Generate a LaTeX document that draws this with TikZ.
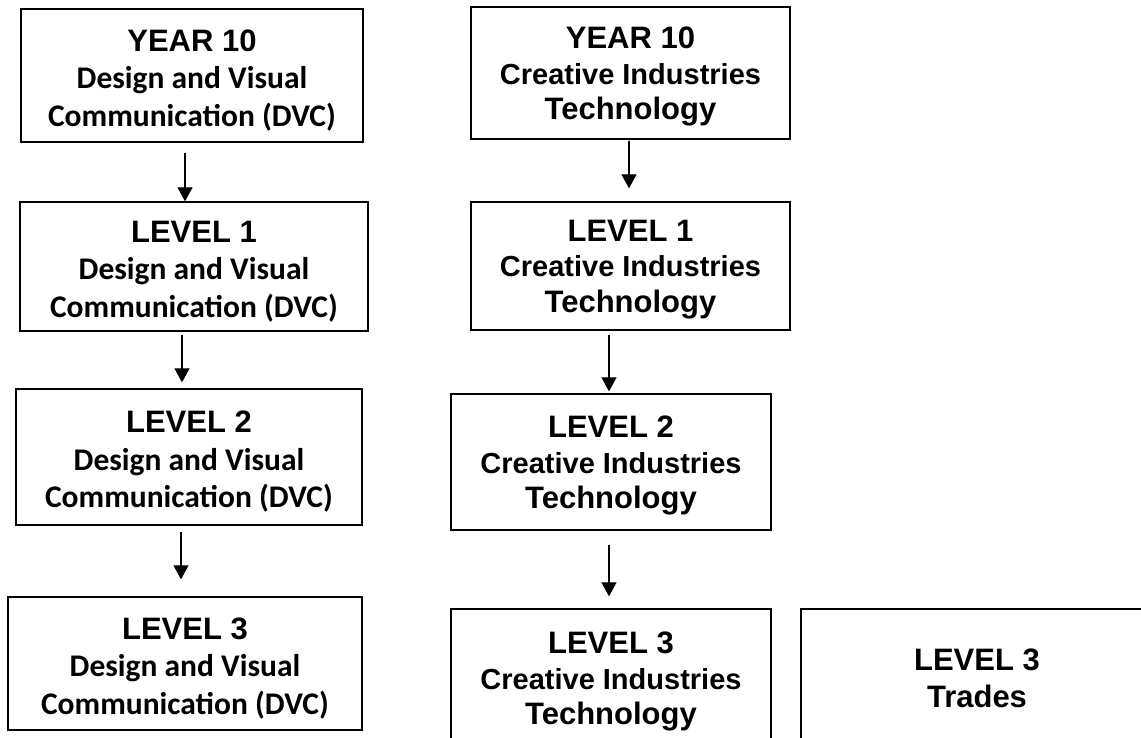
\documentclass[tikz,border=0pt]{standalone}
\usepackage{fontspec}
\setmainfont{Liberation Sans}
\newfontfamily\calfont{Carlito}
\usetikzlibrary{arrows.meta}
\newcommand\dvclines{{\calfont\fontsize{31.5}{37.5}\selectfont Design and Visual}\\{\calfont\fontsize{31.5}{37.5}\selectfont Communication (DVC)}}
\newcommand\citlines{{\fontsize{29}{35.5}\selectfont Creative Industries}\\{\fontsize{31}{35.5}\selectfont Technology}}
\newcommand\headline[2]{\raisebox{0pt}[\dimexpr\height+#1\relax]{#2}}

\begin{document}
\begin{tikzpicture}[x=1pt,y=-1pt,
  stage/.style={draw,line width=1.3pt,inner sep=0pt,align=center,
    font=\fontsize{31}{37.5}\selectfont\bfseries},
  citstage/.style={stage,font=\fontsize{31}{35.5}\selectfont\bfseries},
  flow/.style={-{Triangle[length=14pt,width=15pt]},line width=1.1pt}]
			\useasboundingbox (0,0) rectangle (1141,738);
			\clip (0,0) rectangle (1141,738);

			% DVC column
			\node[stage,minimum width=342pt,minimum height=133pt] (dY10) at (192,75.5) {\headline{10pt}{YEAR 10}\\\dvclines};
			\node[stage,minimum width=348pt,minimum height=129pt] (dL1) at (194,266.5) {\headline{10pt}{LEVEL 1}\\\dvclines};
			\node[stage,minimum width=346pt,minimum height=136pt] (dL2) at (189,457) {\headline{10pt}{LEVEL 2}\\\dvclines};
			\node[stage,minimum width=354pt,minimum height=133pt] (dL3) at (185,663.5) {\headline{10pt}{LEVEL 3}\\\dvclines};

			% CIT column
			\node[citstage,minimum width=319pt,minimum height=132pt] (tY10) at (630.5,73) {\headline{7pt}{YEAR 10}\\\citlines};
			\node[citstage,minimum width=319pt,minimum height=128pt] (tL1) at (630.5,266) {\headline{7pt}{LEVEL 1}\\\citlines};
			\node[citstage,minimum width=320pt,minimum height=136pt] (tL2) at (611,462) {\headline{7pt}{LEVEL 2}\\\citlines};
			\node[citstage,minimum width=320pt,minimum height=138pt] (tL3) at (611,678) {\headline{7pt}{LEVEL 3}\\\citlines};
			\node[stage,minimum width=352pt,minimum height=139pt] (trades) at (977,678.5) {LEVEL 3\\Trades};

			\draw[flow] ([xshift=-7pt,yshift=-10pt]dY10.south) -- ([xshift=-9pt]dL1.north);
			\draw[flow] ([xshift=-12pt,yshift=-3pt]dL1.south) -- ([xshift=-7pt,yshift=6pt]dL2.north);
			\draw[flow] ([xshift=-8pt,yshift=-6pt]dL2.south) -- ([xshift=-4pt,yshift=17pt]dL3.north);
			\draw[flow] ([xshift=-1.5pt,yshift=-1pt]tY10.south) -- ([xshift=-1.5pt,yshift=13pt]tL1.north);
			\draw[flow] ([xshift=-21.5pt,yshift=-4pt]tL1.south) -- ([xshift=-2pt,yshift=2pt]tL2.north);
			\draw[flow] ([xshift=-2pt,yshift=-14pt]tL2.south) -- ([xshift=-2pt,yshift=12pt]tL3.north);
		\end{tikzpicture}
\end{document}
